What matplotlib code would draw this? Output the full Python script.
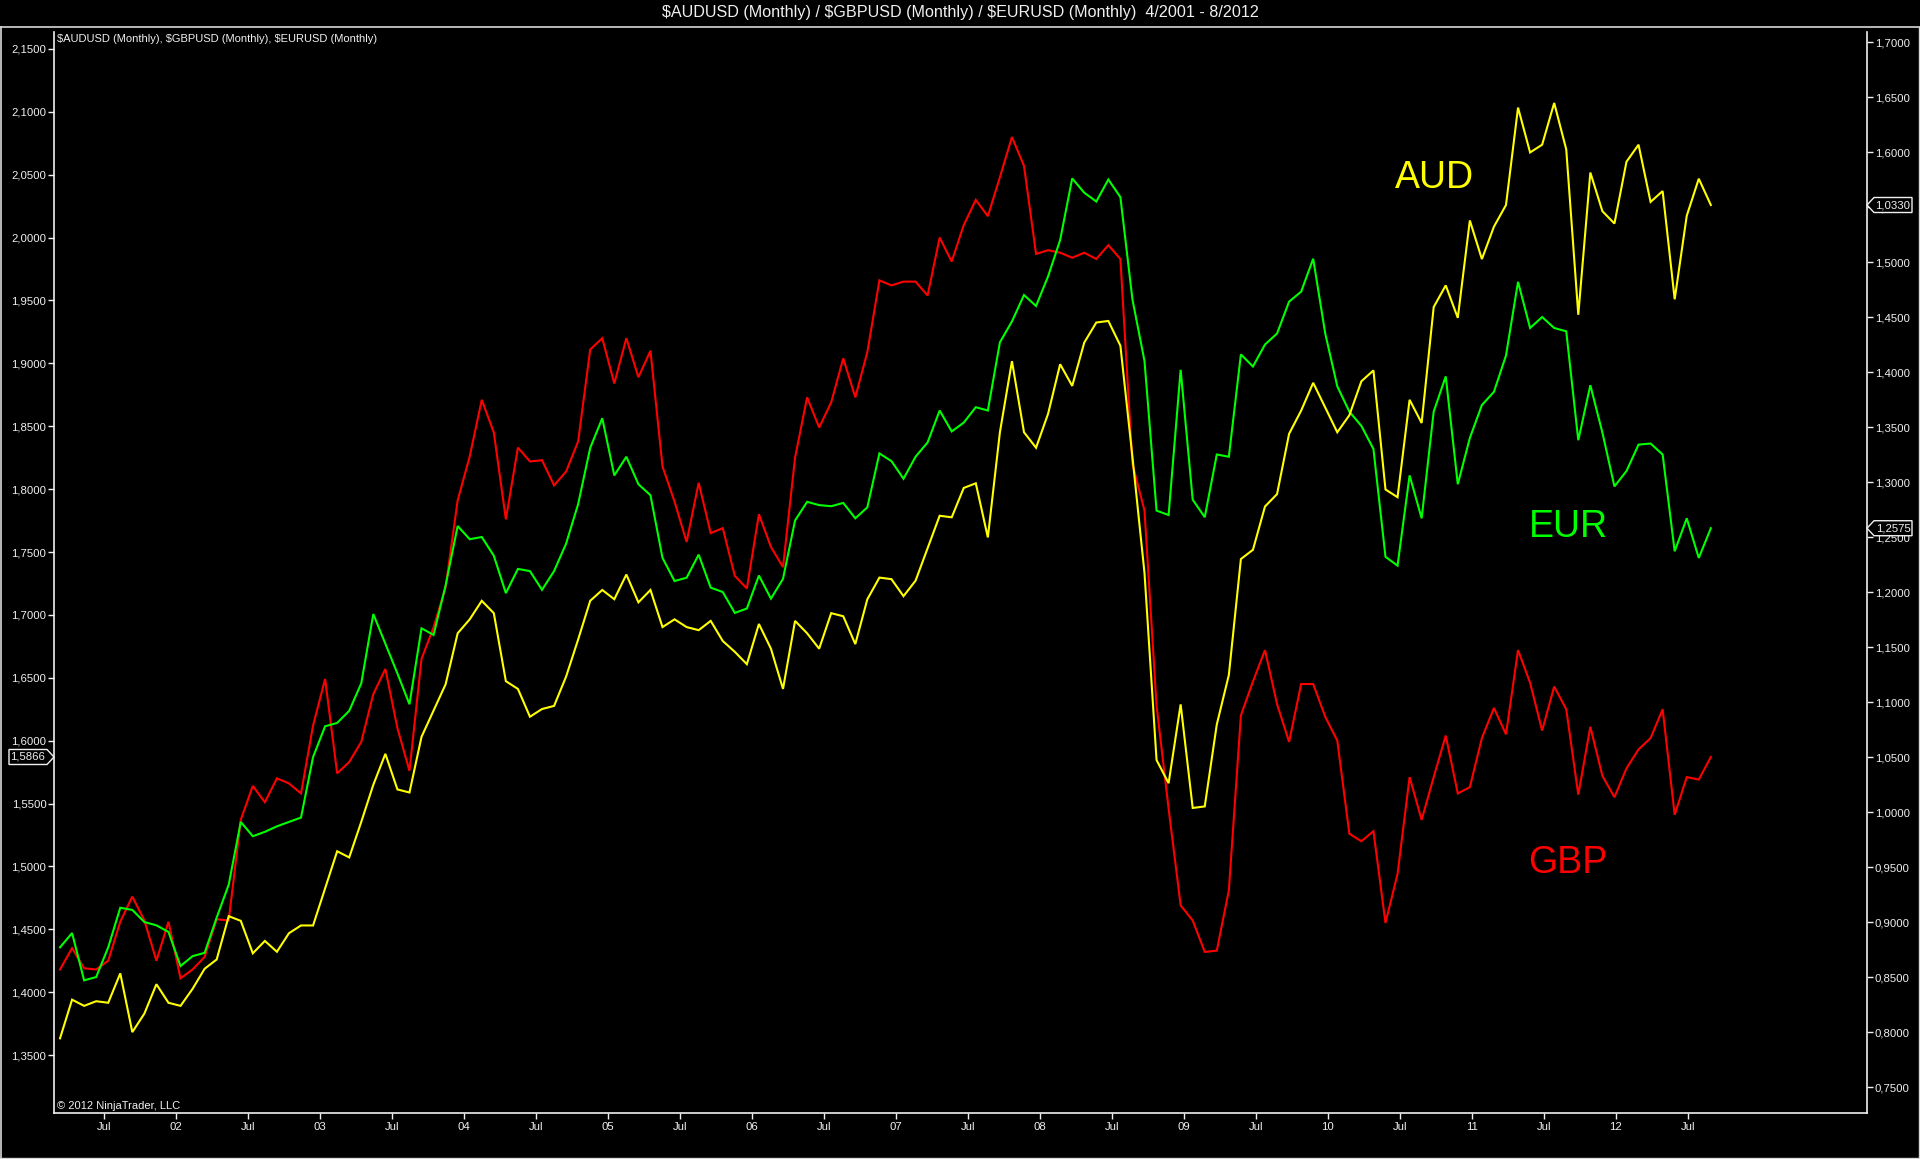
import numpy as np
import matplotlib
matplotlib.use("Agg")
import matplotlib.pyplot as plt
from matplotlib.patches import Polygon
from matplotlib.lines import Line2D
from matplotlib.ticker import FixedLocator, FuncFormatter

plt.rcParams['font.family'] = ['Liberation Sans', 'DejaVu Sans']

# ---------------- data (monthly closes, Mar 2001 .. Aug 2012) ----------------
aud = [0.494, 0.519, 0.515, 0.518, 0.517, 0.536, 0.498, 0.510, 0.529, 0.517,
       0.515, 0.526, 0.539, 0.545, 0.573, 0.570, 0.549, 0.557, 0.550, 0.562,
       0.567, 0.567, 0.591, 0.615, 0.611, 0.634, 0.658, 0.678, 0.655, 0.653,
       0.689, 0.706, 0.723, 0.756, 0.765, 0.777, 0.769, 0.725, 0.720, 0.702,
       0.707, 0.709, 0.728, 0.752, 0.777, 0.784, 0.778, 0.794, 0.776, 0.784,
       0.760, 0.765, 0.760, 0.758, 0.764, 0.751, 0.744, 0.736, 0.762, 0.746,
       0.720, 0.764, 0.756, 0.746, 0.769, 0.767, 0.749, 0.778, 0.792, 0.791,
       0.780, 0.790, 0.811, 0.832, 0.831, 0.850, 0.853, 0.818, 0.886, 0.932,
       0.886, 0.876, 0.898, 0.930, 0.916, 0.944, 0.957, 0.958, 0.942, 0.870,
       0.795, 0.674, 0.659, 0.710, 0.643, 0.644, 0.697, 0.729, 0.804, 0.810,
       0.838, 0.846, 0.885, 0.900, 0.918, 0.902, 0.886, 0.897, 0.919, 0.926,
       0.849, 0.844, 0.907, 0.892, 0.967, 0.981, 0.960, 1.023, 0.998, 1.019,
       1.033, 1.096, 1.067, 1.072, 1.099, 1.069, 0.962, 1.054, 1.029, 1.021,
       1.061, 1.072, 1.035, 1.042, 0.972, 1.026, 1.050, 1.033]

gbp = [1.418, 1.435, 1.419, 1.418, 1.425, 1.456, 1.476, 1.457, 1.425, 1.456,
       1.411, 1.418, 1.428, 1.458, 1.457, 1.537, 1.564, 1.551, 1.570, 1.566,
       1.558, 1.612, 1.649, 1.574, 1.583, 1.599, 1.637, 1.657, 1.610, 1.576,
       1.665, 1.690, 1.722, 1.791, 1.826, 1.871, 1.845, 1.776, 1.833, 1.822,
       1.823, 1.803, 1.814, 1.838, 1.911, 1.920, 1.884, 1.920, 1.889, 1.910,
       1.818, 1.790, 1.758, 1.805, 1.765, 1.769, 1.731, 1.721, 1.780, 1.754,
       1.738, 1.825, 1.873, 1.849, 1.869, 1.904, 1.873, 1.909, 1.966, 1.962,
       1.965, 1.965, 1.954, 2.000, 1.981, 2.010, 2.030, 2.017, 2.048, 2.080,
       2.057, 1.987, 1.990, 1.988, 1.984, 1.988, 1.983, 1.994, 1.983, 1.820,
       1.783, 1.628, 1.546, 1.469, 1.457, 1.432, 1.433, 1.481, 1.620, 1.647,
       1.672, 1.629, 1.599, 1.645, 1.645, 1.619, 1.600, 1.526, 1.520, 1.528,
       1.455, 1.494, 1.571, 1.537, 1.571, 1.604, 1.558, 1.563, 1.602, 1.626,
       1.605, 1.672, 1.646, 1.608, 1.643, 1.625, 1.557, 1.611, 1.572, 1.555,
       1.578, 1.593, 1.602, 1.625, 1.541, 1.571, 1.569, 1.587]

eur = [0.877, 0.890, 0.847, 0.850, 0.877, 0.913, 0.911, 0.900, 0.897, 0.891,
       0.860, 0.869, 0.872, 0.904, 0.934, 0.991, 0.978, 0.982, 0.987, 0.991,
       0.995, 1.050, 1.078, 1.081, 1.092, 1.117, 1.180, 1.153, 1.126, 1.098,
       1.167, 1.161, 1.206, 1.260, 1.248, 1.250, 1.233, 1.199, 1.221, 1.219,
       1.202, 1.219, 1.244, 1.280, 1.331, 1.358, 1.306, 1.323, 1.298, 1.288,
       1.231, 1.210, 1.213, 1.234, 1.204, 1.200, 1.181, 1.185, 1.215, 1.194,
       1.212, 1.265, 1.282, 1.279, 1.278, 1.281, 1.267, 1.277, 1.326, 1.319,
       1.303, 1.323, 1.336, 1.365, 1.346, 1.354, 1.368, 1.365, 1.427, 1.446,
       1.470, 1.460, 1.487, 1.520, 1.576, 1.563, 1.555, 1.575, 1.559, 1.466,
       1.410, 1.274, 1.270, 1.402, 1.284, 1.268, 1.325, 1.323, 1.416, 1.405,
       1.425, 1.435, 1.464, 1.473, 1.503, 1.435, 1.387, 1.364, 1.351, 1.330,
       1.232, 1.224, 1.306, 1.267, 1.364, 1.396, 1.298, 1.340, 1.370, 1.382,
       1.415, 1.482, 1.440, 1.450, 1.440, 1.437, 1.338, 1.388, 1.345, 1.296,
       1.310, 1.334, 1.335, 1.325, 1.237, 1.267, 1.231, 1.258]

x_labels = ["Jul", "02", "Jul", "03", "Jul", "04", "Jul", "05", "Jul", "06",
            "Jul", "07", "Jul", "08", "Jul", "09", "Jul", "10", "Jul", "11",
            "Jul", "12", "Jul"]

last_values = {"AUD": "1,0330", "EUR": "1,2575", "GBP": "1,5866"}

title = "$AUDUSD (Monthly) / $GBPUSD (Monthly) / $EURUSD (Monthly)  4/2001 - 8/2012"
series_label = "$AUDUSD (Monthly), $GBPUSD (Monthly), $EURUSD (Monthly)"
copyright_txt = "\u00a9 2012 NinjaTrader, LLC"

# ---------------- figure layout ----------------
W, H = 1920, 1159
fig = plt.figure(figsize=(W / 100, H / 100), dpi=100, facecolor="black")

ax_left, ax_right, ax_top, ax_bot = 54, 1867, 32, 1113   # pixels
ax = fig.add_axes([ax_left / W, 1 - ax_bot / H, (ax_right - ax_left) / W,
                   (ax_bot - ax_top) / H], facecolor="black")
ax_eur = ax.twinx()
ax_aud = ax.twinx()

x = np.arange(len(aud))

RED, GREEN, YELLOW = "#ff0000", "#00ff00", "#ffff00"
LW = 1.5
ax.plot(x, gbp, color=RED, lw=LW, solid_joinstyle="miter")
ax_eur.plot(x, eur, color=GREEN, lw=LW, solid_joinstyle="miter")
ax_aud.plot(x, aud, color=YELLOW, lw=LW, solid_joinstyle="miter")

ax.set_xlim(-0.5, 149.96)
ax.set_ylim(1.3039, 2.1635)
ax_eur.set_ylim(0.7264, 1.7091)
ax_aud.set_ylim(0.4457, 1.1449)

fmt = FuncFormatter(lambda v, p: f"{v:.4f}".replace(".", ","))

ax.yaxis.set_major_locator(FixedLocator(np.arange(1.35, 2.1501, 0.05)))
ax.yaxis.set_major_formatter(fmt)
ax_eur.yaxis.set_major_locator(FixedLocator(np.arange(0.75, 1.7001, 0.05)))
ax_eur.yaxis.set_major_formatter(fmt)

tick_pos = np.linspace(3.65, 135.1, len(x_labels))
ax.set_xticks(tick_pos)
ax.set_xticklabels(x_labels)

WHITE = "#f0f0f0"
TFS = 8.2
ax.tick_params(axis="y", colors=WHITE, labelsize=TFS, length=4, width=1, pad=1.5)
ax.tick_params(axis="x", colors=WHITE, labelsize=TFS, length=4, width=1, pad=2.5)
ax_eur.tick_params(axis="y", colors=WHITE, labelsize=TFS, length=4, width=1, pad=1.5)

for a in (ax, ax_eur, ax_aud):
    for s in a.spines.values():
        s.set_visible(False)
ax.spines["left"].set_visible(True)
ax.spines["bottom"].set_visible(True)
ax_eur.spines["right"].set_visible(True)
for s in (ax.spines["left"], ax.spines["bottom"], ax_eur.spines["right"]):
    s.set_color(WHITE)
    s.set_linewidth(1.2)
ax_aud.set_yticks([])
ax_aud.tick_params(axis="both", length=0, labelleft=False, labelright=False)

# series names
ax.text((1395 - ax_left) / (ax_right - ax_left), (ax_bot - 178) / (ax_bot - ax_top),
        "AUD", color=YELLOW, fontsize=27, ha="left", va="center",
        transform=ax.transAxes)
ax.text((1529 - ax_left) / (ax_right - ax_left), (ax_bot - 527) / (ax_bot - ax_top),
        "EUR", color=GREEN, fontsize=27, ha="left", va="center",
        transform=ax.transAxes)
ax.text((1528 - ax_left) / (ax_right - ax_left), (ax_bot - 863) / (ax_bot - ax_top),
        "GBP", color=RED, fontsize=27, ha="left", va="center",
        transform=ax.transAxes)

# texts
fig.text(0.5, 1 - 13 / H, title, color=WHITE, fontsize=11.6, ha="center", va="center")
fig.text(57 / W, 1 - 39 / H, series_label, color=WHITE, fontsize=8, ha="left", va="center")
fig.text(57 / W, 1 - 1106 / H, copyright_txt, color=WHITE, fontsize=8, ha="left", va="center")

# window frame
frame_col = "#d8d8d8"
fig.add_artist(Line2D([0, 1], [1 - 27 / H, 1 - 27 / H], transform=fig.transFigure,
                      color=frame_col, lw=1.2))
fig.add_artist(Line2D([0.6 / W, 0.6 / W], [1 - 27 / H, 1 / H], transform=fig.transFigure,
                      color=frame_col, lw=1.2))
fig.add_artist(Line2D([1 - 0.6 / W, 1 - 0.6 / W], [1 - 27 / H, 1 / H],
                      transform=fig.transFigure, color=frame_col, lw=1.0))
fig.add_artist(Line2D([0, 1], [1.5 / H, 1.5 / H], transform=fig.transFigure,
                      color=frame_col, lw=1.0))

# current value markers
def px_y(axis, val):
    return axis.transData.transform((0, val))[1]


def right_marker(axis, val, txt):
    yp = px_y(axis, val)
    pts = [(1867, yp), (1874, yp + 7.5), (1912, yp + 7.5), (1912, yp - 7.5), (1874, yp - 7.5)]
    pts = [(a / W, b / H) for a, b in pts]
    fig.add_artist(Polygon(pts, closed=True, transform=fig.transFigure,
                           facecolor="black", edgecolor=WHITE, lw=1.0, zorder=5))
    fig.text(1893 / W, yp / H, txt, color=WHITE, fontsize=TFS, ha="center",
             va="center", zorder=6)


def left_marker(axis, val, txt):
    yp = px_y(axis, val)
    pts = [(9, yp + 7.5), (47, yp + 7.5), (54, yp), (47, yp - 7.5), (9, yp - 7.5)]
    pts = [(a / W, b / H) for a, b in pts]
    fig.add_artist(Polygon(pts, closed=True, transform=fig.transFigure,
                           facecolor="black", edgecolor=WHITE, lw=1.0, zorder=5))
    fig.text(28 / W, yp / H, txt, color=WHITE, fontsize=TFS, ha="center",
             va="center", zorder=6)


right_marker(ax_aud, aud[-1], last_values["AUD"])
right_marker(ax_eur, eur[-1], last_values["EUR"])
left_marker(ax, gbp[-1], last_values["GBP"])

fig.savefig("out.png", dpi=100, facecolor="black")
